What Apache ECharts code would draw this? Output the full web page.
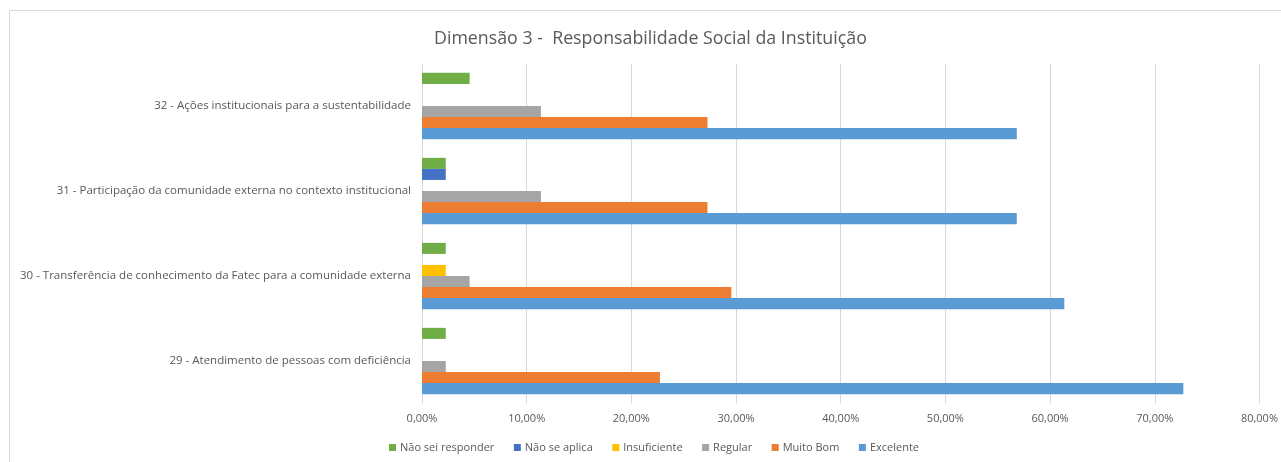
<!DOCTYPE html>
<html>
<head>
<meta charset="utf-8">
<script src="https://cdn.jsdelivr.net/npm/echarts@6/dist/echarts.min.js"></script>
<style>
  html, body { margin: 0; padding: 0; background: #ffffff; }
  #chart { width: 1281px; height: 462px; }
</style>
</head>
<body>
<div id="chart"></div>
<script>
const titleText = 'Dimensão 3 -  Responsabilidade Social da Instituição';
const categories = [
  '29 - Atendimento de pessoas com deficiência',
  '30 - Transferência de conhecimento da Fatec para a comunidade externa',
  '31 - Participação da comunidade externa no contexto institucional',
  '32 - Ações institucionais para a sustentabilidade'
];
const seriesNames = ['Não sei responder', 'Não se aplica', 'Insuficiente', 'Regular', 'Muito Bom', 'Excelente'];
const naoSeiResponder = [2.27, 2.27, 2.27, 4.55];
const naoSeAplica     = [0, 0, 2.27, 0];
const insuficiente    = [0, 2.27, 0, 0];
const regular         = [2.27, 4.55, 11.36, 11.36];
const muitoBom        = [22.73, 29.55, 27.27, 27.27];
const excelente       = [72.73, 61.36, 56.82, 56.82];
const xTicks = { min: 0, max: 80, interval: 10 };

const seriesData = [naoSeiResponder, naoSeAplica, insuficiente, regular, muitoBom, excelente];
const colors = ['#70AD47', '#4472C4', '#FFC000', '#A5A5A5', '#ED7D31', '#5B9BD5'];
const font = '"Open Sans", "DejaVu Sans", sans-serif';

const chart = echarts.init(document.getElementById('chart'), null, { renderer: 'canvas' });
chart.setOption({
  backgroundColor: '#ffffff',
  animation: false,
  color: colors,
  title: {
    text: titleText,
    left: 429,
    top: 25,
    textStyle: { fontFamily: font, fontSize: 17.8, fontWeight: 'normal', color: '#595959' }
  },
  graphic: [{
    type: 'rect',
    shape: { x: 9.5, y: 10.5, width: 1300, height: 600 },
    style: { fill: 'none', stroke: '#D9D9D9', lineWidth: 1 },
    silent: true, z: -1
  }],
  legend: {
    data: seriesNames,
    bottom: 4,
    left: 384,
    itemWidth: 7,
    itemHeight: 7,
    itemGap: 19.5,
    icon: 'rect',
    textStyle: { fontFamily: font, fontSize: 11, color: '#595959', padding: [0, 0, 0, -1] }
  },
  grid: { left: 422, right: 21, top: 63.5, bottom: 58.5, containLabel: false },
  xAxis: {
    type: 'value',
    min: xTicks.min, max: xTicks.max, interval: xTicks.interval,
    axisLine: { show: false },
    axisTick: { show: true, length: 0 },
    splitLine: { show: true, lineStyle: { color: '#D9D9D9', width: 1 } },
    axisLabel: {
      fontFamily: font, fontSize: 11, color: '#595959', margin: 10,
      formatter: v => v.toFixed(2).replace('.', ',') + '%'
    }
  },
  yAxis: {
    type: 'category',
    data: categories,
    axisLine: { show: false },
    axisTick: { show: false },
    axisLabel: { fontFamily: font, fontSize: 11.5, color: '#595959', margin: 11 }
  },
  series: seriesNames.map((name, i) => ({
    name: name,
    type: 'bar',
    data: seriesData[i],
    barGap: '0%',
    barCategoryGap: '22%',
    itemStyle: { color: colors[i] }
  }))
});
</script>
</body>
</html>
